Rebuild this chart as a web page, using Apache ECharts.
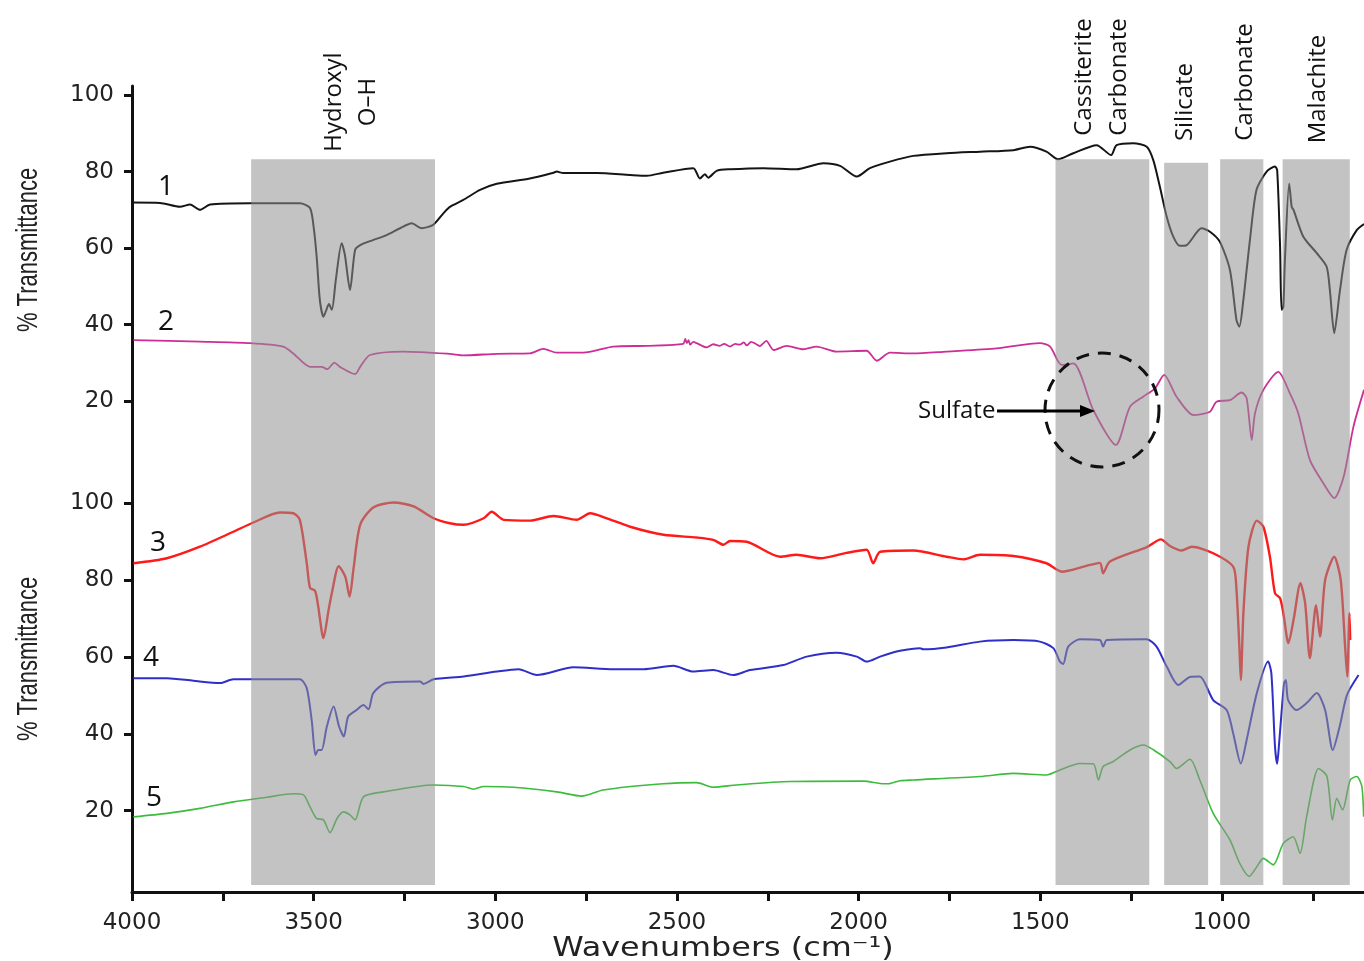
<!DOCTYPE html>
<html>
<head>
<meta charset="utf-8">
<script src="https://cdn.jsdelivr.net/npm/echarts@6/dist/echarts.min.js"></script>
<style>
html, body { margin: 0; padding: 0; background: #fff; }
#chart { width: 1364px; height: 961px; }
</style>
</head>
<body>
<div id="chart"></div>
<script>
// spectrum 1 (top panel)
const wave1 = [4000,3923,3868,3840,3813,3785,3675,3538,3510,3499,3491,3483,3473,3465,3458,3450,3439,3423,3414,3400,3386,3372,3337,3299,3262,3230,3203,3171,3143,3125,3088,3042,2996,2905,2840,2831,2813,2721,2629,2583,2538,2455,2437,2423,2414,2391,2354,2262,2171,2097,2051,2005,1969,1914,1850,1758,1666,1574,1528,1483,1451,1409,1345,1305,1290,1244,1207,1189,1171,1152,1134,1116,1097,1056,1033,1006,978,960,952,941,932,923,905,877,854,848,840,836,831,827,815,808,803,776,739,712,703,691,675,657,629,609];
const trans1 = [71.9,71.8,70.8,71.4,70.0,71.4,71.7,71.7,70.5,64.7,56.9,46.5,42.1,43.9,45.4,43.9,51.7,61.3,58.2,49.1,59.5,60.8,62.1,63.4,65.2,66.5,65.2,66.1,69.1,70.8,72.6,75.2,76.8,78.2,79.7,80.0,79.6,79.6,79.1,78.9,79.7,80.9,78.2,79.3,78.4,80.2,80.6,80.9,80.6,82.2,81.5,78.7,80.9,82.6,84.1,84.8,85.2,85.6,86.5,85.2,83.2,84.8,86.9,84.3,86.9,87.4,86.5,83.0,76.1,68.2,63.0,60.6,60.8,65.2,64.3,61.7,54.3,41.2,39.5,46.5,54.3,62.1,75.2,80.0,81.3,80.4,60.4,43.9,44.7,56.1,76.9,70.8,70.0,63.0,58.7,55.2,49.1,37.8,49.1,59.5,64.7,66.3];

// spectrum 2 (top panel)
const wave2 = [3996,3813,3675,3584,3556,3510,3478,3462,3443,3428,3386,3372,3345,3253,3125,3088,2996,2905,2868,2831,2758,2675,2583,2483,2477,2473,2468,2464,2455,2446,2418,2400,2382,2370,2354,2340,2327,2316,2308,2296,2285,2272,2262,2254,2234,2198,2152,2116,2061,1978,1950,1914,1850,1758,1620,1501,1473,1441,1409,1354,1292,1253,1217,1184,1159,1125,1078,1033,1015,978,946,932,918,909,886,845,813,790,758,721,691,665,638,609];
const trans2 = [36.0,35.6,35.2,34.3,32.5,29.0,29.0,28.4,30.1,29.0,27.1,29.0,32.1,33.0,32.4,32.0,32.4,32.5,33.7,32.7,32.7,34.3,34.5,35.0,36.3,35.2,36.0,34.8,35.5,35.2,34.1,34.9,34.5,35.0,34.3,35.0,34.8,35.4,34.6,35.5,35.1,34.4,35.2,35.8,33.4,34.5,33.6,34.3,33.0,33.2,30.6,32.7,32.5,33.0,33.8,35.2,34.3,29.5,29.9,17.7,8.6,18.6,21.2,23.4,26.9,21.2,16.4,17.3,19.9,20.3,22.3,20.8,9.9,16.9,23.0,27.7,22.1,16.9,4.7,-1.4,-5.3,0.3,13.4,23.0];

// spectrum 3 (bottom panel)
const wave3 = [3996,3904,3813,3721,3666,3593,3556,3538,3519,3510,3496,3488,3473,3459,3450,3431,3413,3401,3390,3372,3336,3280,3225,3170,3125,3087,3032,3010,2977,2904,2840,2776,2739,2693,2629,2537,2446,2400,2372,2354,2308,2216,2171,2106,2033,1978,1960,1941,1850,1758,1712,1666,1574,1483,1441,1373,1336,1327,1309,1207,1168,1143,1111,1083,1024,969,960,952,948,941,927,904,886,868,854,840,831,817,803,784,771,758,741,730,716,691,673,661,655,649,647];
const trans3 = [84.4,85.7,88.7,92.6,95.0,97.6,97.4,95.7,84.4,78.0,77.2,73.5,64.9,72.2,76.6,83.6,80.9,75.7,83.2,94.4,98.9,100.2,99.2,96.1,94.8,94.4,96.1,97.8,95.7,95.5,96.7,95.7,97.4,96.1,93.9,91.8,91.1,90.5,89.2,90.2,90.0,86.1,86.6,85.7,87.1,87.9,84.4,87.4,87.7,86.1,85.4,86.6,86.3,84.4,82.2,83.7,84.5,81.8,84.8,88.6,90.6,88.9,87.7,88.7,87.0,83.5,77.4,62.7,54.0,71.4,88.7,95.5,93.9,86.1,76.6,75.3,71.4,63.6,69.6,79.2,74.0,59.7,73.5,65.3,80.0,86.1,80.0,62.7,54.9,71.4,64.4];

// spectrum 4 (bottom panel)
const wave4 = [3996,3904,3831,3758,3721,3538,3519,3505,3495,3487,3478,3464,3445,3430,3417,3405,3382,3363,3349,3336,3299,3207,3198,3170,3087,2996,2936,2886,2785,2675,2592,2510,2455,2400,2345,2299,2207,2143,2061,2005,1978,1941,1886,1831,1822,1758,1666,1574,1501,1464,1446,1437,1423,1391,1336,1327,1317,1207,1180,1152,1120,1088,1061,1024,987,969,948,932,904,873,864,854,848,843,829,824,818,795,767,739,716,695,675,656,624];
const trans4 = [54.5,54.5,53.8,53.2,54.2,54.2,51.9,43.2,34.5,35.8,35.8,41.8,47.1,41.9,39.3,44.5,46.2,47.5,46.4,50.6,53.3,53.6,53.0,54.2,54.9,56.2,56.8,55.3,57.3,56.8,56.8,57.7,56.2,56.6,55.3,56.6,57.9,60.1,61.1,60.1,58.8,60.1,61.6,62.3,62.0,62.5,64.0,64.4,64.0,62.3,58.8,58.2,62.7,64.6,64.4,62.7,64.4,64.6,62.7,57.5,52.7,54.8,54.9,48.8,46.2,40.1,32.3,38.4,50.6,58.8,55.8,36.7,32.2,37.1,53.2,54.0,48.8,46.2,48.0,50.6,46.2,35.8,42.3,50.1,55.3];

// spectrum 5 (bottom panel)
const wave5 = [3996,3904,3813,3721,3629,3556,3528,3510,3492,3473,3455,3435,3418,3400,3386,3363,3308,3170,3087,3060,3032,2950,2831,2762,2703,2538,2446,2400,2336,2188,1987,1930,1918,1886,1850,1666,1574,1483,1446,1391,1354,1340,1327,1299,1253,1216,1188,1143,1125,1088,1061,1024,978,951,925,904,886,859,831,804,785,767,734,711,696,684,668,647,629,615,610];
const trans5 = [18.4,19.3,20.6,22.3,23.5,24.4,24.1,21.0,18.0,17.6,14.3,18.1,19.7,18.9,17.6,23.6,24.9,26.7,26.3,25.6,26.3,26.1,24.9,23.8,25.4,27.0,27.3,26.1,26.7,27.6,27.7,27.0,27.0,27.8,28.0,28.9,29.7,29.3,30.6,32.3,32.2,28.0,31.5,32.8,35.8,37.1,35.8,32.8,31.0,33.4,28.0,19.3,12.4,6.3,2.9,5.4,7.6,5.9,11.5,13.2,8.9,18.4,31.0,28.9,17.6,23.2,20.2,28.0,28.9,26.3,18.4];

// shaded assignment bands (wavenumber from/to, top in top-panel units)
const bandFrom = [3672, 1458, 1159, 1005, 833];
const bandTo = [3166, 1200, 1038, 886, 648];
const bandTop = [83.2, 83.2, 82.3, 83.2, 83.2];
const bandBottom = -106.3;

// ticks
const yTicks = [20, 40, 60, 80, 100];
const xLabels = [1000, 1500, 2000, 2500, 3000, 3500, 4000];
const xTicks = [750, 1000, 1250, 1500, 1750, 2000, 2250, 2500, 2750, 3000, 3250, 3500, 3750, 4000];

function pairs(w, t) {
  const n = Math.min(w.length, t.length);
  const out = [];
  for (let i = 0; i < n; i++) out.push([w[i], t[i]]);
  return out;
}

const tickFont = { color: '#222', fontFamily: 'DejaVu Sans', fontSize: 23, formatter: v => String(v) };
const labelFont = '24px "Open Sans"';

function lineSeries(name, data, yIdx, color, width) {
  return {
    type: 'line', name: name, xAxisIndex: 0, yAxisIndex: yIdx,
    data: data, showSymbol: false, symbol: 'none', smooth: 0.25,
    lineStyle: { color: color, width: width }, z: 2
  };
}

const chart = echarts.init(document.getElementById('chart'));

chart.setOption({
  animation: false,
  backgroundColor: '#fff',
  grid: { left: 132, right: 0, top: 86, bottom: 69, containLabel: false, outerBoundsMode: 'none' },
  xAxis: {
    type: 'value', inverse: true, min: 609, max: 4000,
    axisLine: { onZero: false, lineStyle: { color: '#111', width: 3 } },
    axisTick: { length: 9, lineStyle: { color: '#111', width: 3 }, customValues: xTicks },
    axisLabel: Object.assign({ customValues: xLabels, margin: 20 }, tickFont),
    splitLine: { show: false }
  },
  yAxis: [
    {
      type: 'value', position: 'left', min: -108.15, max: 102.35,
      axisLine: { show: true, onZero: false, lineStyle: { color: '#111', width: 3 } },
      axisTick: { show: true, length: 8, lineStyle: { color: '#111', width: 3 }, customValues: yTicks },
      axisLabel: Object.assign({ customValues: yTicks, margin: 18 }, tickFont),
      splitLine: { show: false }
    },
    {
      type: 'value', position: 'left', offset: 0, min: -1.16, max: 208.6,
      axisLine: { show: false },
      axisTick: { show: true, length: 8, lineStyle: { color: '#111', width: 3 }, customValues: yTicks },
      axisLabel: Object.assign({ customValues: yTicks, margin: 18 }, tickFont),
      splitLine: { show: false }
    }
  ],
  series: [
    lineSeries('1', pairs(wave1, trans1), 0, '#151515', 2),
    lineSeries('2', pairs(wave2, trans2), 0, '#cc2e96', 1.8),
    lineSeries('3', pairs(wave3, trans3), 1, '#ff1a1a', 2.4),
    lineSeries('4', pairs(wave4, trans4), 1, '#2f2fc8', 2),
    lineSeries('5', pairs(wave5, trans5), 1, '#3cbc3c', 1.6),
    {
      type: 'custom', name: 'bands', xAxisIndex: 0, yAxisIndex: 0, silent: true, z: 5,
      data: bandFrom.map((f, i) => [f, bandTo[i], bandTop[i], bandBottom]),
      encode: { x: [0, 1], y: [2, 3] },
      renderItem: function (params, api) {
        const p1 = api.coord([api.value(0), api.value(2)]);
        const p2 = api.coord([api.value(1), api.value(3)]);
        return {
          type: 'rect',
          shape: {
            x: Math.min(p1[0], p2[0]), y: Math.min(p1[1], p2[1]),
            width: Math.abs(p2[0] - p1[0]), height: Math.abs(p2[1] - p1[1])
          },
          style: { fill: 'rgba(146,146,146,0.55)' }
        };
      }
    }
  ],
  graphic: [
    // axis titles (narrow, tall lettering)
    { type: 'text', x: 29, y: 250, rotation: Math.PI / 2, scaleY: 1.3, z: 10,
      style: { text: '% Transmittance', font: '22px "Liberation Sans"', fill: '#222', align: 'center', verticalAlign: 'middle' } },
    { type: 'text', x: 29, y: 659, rotation: Math.PI / 2, scaleY: 1.3, z: 10,
      style: { text: '% Transmittance', font: '22px "Liberation Sans"', fill: '#222', align: 'center', verticalAlign: 'middle' } },
    { type: 'text', x: 723, y: 949, scaleX: 1.18, z: 10,
      style: { text: 'Wavenumbers (cm\u207B\u00B9)', font: '27px "DejaVu Sans"', fill: '#222', align: 'center', verticalAlign: 'middle' } },
    // band labels
    { type: 'text', x: 351, y: 102, rotation: Math.PI / 2, z: 10,
      style: { text: 'Hydroxyl\nO\u2013H', font: labelFont, lineHeight: 34, fill: '#111', align: 'center', verticalAlign: 'middle' } },
    { type: 'text', x: 1102, y: 77, rotation: Math.PI / 2, z: 10,
      style: { text: 'Cassiterite\nCarbonate', font: labelFont, lineHeight: 35, fill: '#111', align: 'center', verticalAlign: 'middle' } },
    { type: 'text', x: 1185, y: 102, rotation: Math.PI / 2, z: 10,
      style: { text: 'Silicate', font: labelFont, fill: '#111', align: 'center', verticalAlign: 'middle' } },
    { type: 'text', x: 1245, y: 82, rotation: Math.PI / 2, z: 10,
      style: { text: 'Carbonate', font: labelFont, fill: '#111', align: 'center', verticalAlign: 'middle' } },
    { type: 'text', x: 1318, y: 89, rotation: Math.PI / 2, z: 10,
      style: { text: 'Malachite', font: labelFont, fill: '#111', align: 'center', verticalAlign: 'middle' } },
    // spectrum numbers
    { type: 'text', x: 166, y: 187, z: 10, style: { text: '1', font: '28px "Open Sans"', fill: '#111', align: 'center', verticalAlign: 'middle' } },
    { type: 'text', x: 166, y: 322, z: 10, style: { text: '2', font: '28px "Open Sans"', fill: '#111', align: 'center', verticalAlign: 'middle' } },
    { type: 'text', x: 158, y: 543, z: 10, style: { text: '3', font: '28px "Open Sans"', fill: '#111', align: 'center', verticalAlign: 'middle' } },
    { type: 'text', x: 151, y: 658, z: 10, style: { text: '4', font: '28px "Open Sans"', fill: '#111', align: 'center', verticalAlign: 'middle' } },
    { type: 'text', x: 154, y: 798, z: 10, style: { text: '5', font: '28px "Open Sans"', fill: '#111', align: 'center', verticalAlign: 'middle' } },
    // sulfate callout
    { type: 'circle', z: 10, shape: { cx: 1102, cy: 410, r: 57 },
      style: { fill: 'transparent', stroke: '#111', lineWidth: 3, lineDash: [13, 9] } },
    { type: 'line', z: 10, shape: { x1: 997, y1: 411, x2: 1083, y2: 411 },
      style: { stroke: '#000', lineWidth: 3 } },
    { type: 'polygon', z: 10, shape: { points: [[1095, 411], [1080, 405], [1080, 417]] },
      style: { fill: '#000' } },
    { type: 'text', x: 918, y: 411, z: 10,
      style: { text: 'Sulfate', font: labelFont, fill: '#111', align: 'left', verticalAlign: 'middle' } }
  ]
});

window.addEventListener('resize', function () { chart.resize(); });
</script>
</body>
</html>
